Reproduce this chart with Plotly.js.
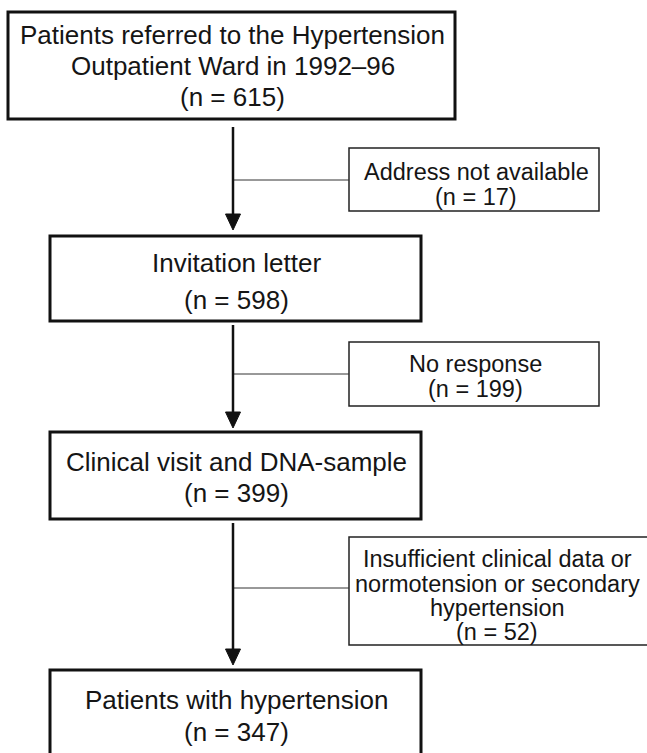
<!DOCTYPE html>
<html>
<head>
<meta charset="utf-8">
<script src="https://cdn.plot.ly/plotly-3.0.1.min.js"></script>
<style>html,body{margin:0;padding:0;background:#fff;}#chart{width:647px;height:753px;}</style>
</head>
<body>
<div id="chart"></div>
<script>
// ---- data ----
const stepLabels = [
  ["Patients referred to the Hypertension", "Outpatient Ward in 1992–96"],
  ["Invitation letter"],
  ["Clinical visit and DNA-sample"],
  ["Patients with hypertension"]
];
const stepCounts = [615, 598, 399, 347];
const exclusionLabels = [
  ["Address not available"],
  ["No response"],
  ["Insufficient clinical data or", "normotension or secondary", "hypertension"]
];
const exclusionCounts = [17, 199, 52];

// ---- geometry (layout only) ----
const mainBoxes = [
  {x0: 8,  x1: 455, y0: 12,  y1: 119, lineY: [35, 66, 97]},
  {x0: 50, x1: 421, y0: 236, y1: 321, lineY: [263, 300]},
  {x0: 50, x1: 421, y0: 432, y1: 519, lineY: [462, 493]},
  {x0: 50, x1: 421, y0: 670, y1: 790, lineY: [700, 732]}
];
const sideBoxes = [
  {x0: 349, x1: 599, y0: 148, y1: 211, conn: 180, cx: 476, lineY: [172, 196.5]},
  {x0: 349, x1: 599, y0: 342, y1: 406, conn: 374, cx: 475, lineY: [364, 389]},
  {x0: 349, x1: 680, y0: 537, y1: 645, conn: 588, cx: 497, lineY: [559, 583.5, 608, 632]}
];
const arrowX = 233;
const arrowStarts = [127, 325, 523];
const arrowEnds = [230, 428, 665];

const shapes = [];
const annotations = [];
const FONT = "Liberation Sans, Arial, Helvetica, sans-serif";

mainBoxes.forEach((b, i) => {
  shapes.push({type: 'rect', xref: 'x', yref: 'y', x0: b.x0, x1: b.x1, y0: b.y0, y1: b.y1,
    line: {color: '#111', width: 3}, fillcolor: 'rgba(0,0,0,0)'});
  const lines = stepLabels[i].concat(["(n = " + stepCounts[i] + ")"]);
  lines.forEach((t, k) => {
    annotations.push({x: (b.x0 + b.x1) / 2 + 1, y: b.lineY[k], xref: 'x', yref: 'y', text: t,
      showarrow: false, xanchor: 'center', yanchor: 'middle',
      font: {family: FONT, size: 26, color: '#151515'}});
  });
});

sideBoxes.forEach((b, i) => {
  shapes.push({type: 'rect', xref: 'x', yref: 'y', x0: b.x0, x1: b.x1, y0: b.y0, y1: b.y1,
    line: {color: '#222', width: 1.5}, fillcolor: 'rgba(0,0,0,0)'});
  shapes.push({type: 'line', xref: 'x', yref: 'y', x0: arrowX, x1: b.x0, y0: b.conn, y1: b.conn,
    line: {color: '#333', width: 1}});
  const lines = exclusionLabels[i].concat(["(n = " + exclusionCounts[i] + ")"]);
  lines.forEach((t, k) => {
    annotations.push({x: b.cx, y: b.lineY[k], xref: 'x', yref: 'y', text: t,
      showarrow: false, xanchor: 'center', yanchor: 'middle',
      font: {family: FONT, size: 23.5, color: '#151515'}});
  });
});

arrowStarts.forEach((s, i) => {
  const e = arrowEnds[i];
  shapes.push({type: 'line', xref: 'x', yref: 'y', x0: arrowX, x1: arrowX, y0: s, y1: e - 12,
    line: {color: '#111', width: 2.5}});
  shapes.push({type: 'path', xref: 'x', yref: 'y',
    path: `M ${arrowX - 7.5} ${e - 16} L ${arrowX + 7.5} ${e - 16} L ${arrowX} ${e} Z`,
    fillcolor: '#111', line: {color: '#111', width: 1}});
});

const layout = {
  width: 647, height: 753,
  margin: {l: 0, r: 0, t: 0, b: 0},
  paper_bgcolor: '#fff', plot_bgcolor: '#fff',
  xaxis: {range: [0, 647], visible: false, fixedrange: true},
  yaxis: {range: [753, 0], visible: false, fixedrange: true},
  shapes: shapes,
  annotations: annotations,
  showlegend: false
};

Plotly.newPlot('chart', [], layout, {displayModeBar: false, staticPlot: true});
</script>
</body>
</html>
